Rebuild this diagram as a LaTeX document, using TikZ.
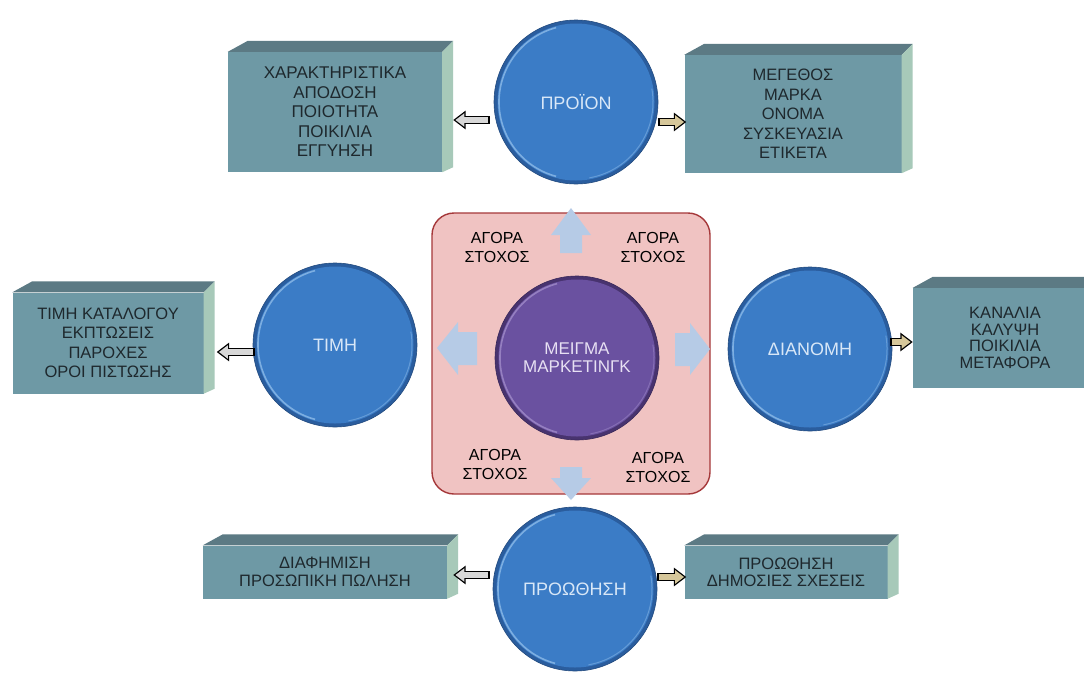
\documentclass[tikz,border=0pt]{standalone}
\usepackage{fontspec}
\setmainfont{Liberation Sans}
\usetikzlibrary{arrows.meta,calc,positioning}
\definecolor{discedge}{HTML}{2A5D9E}
\definecolor{discblue}{HTML}{3B7CC6}
\definecolor{discrim}{HTML}{8DBBE8}
\definecolor{disctext}{HTML}{D8E7F7}
\definecolor{mixedge}{HTML}{48336F}
\definecolor{mixfill}{HTML}{6A51A0}
\definecolor{mixrim}{HTML}{A08BC9}
\definecolor{mixtext}{HTML}{E7E0F3}
\definecolor{panelfill}{HTML}{F0C3C2}
\definecolor{paneledge}{HTML}{A5383A}
\definecolor{slabfront}{HTML}{6E99A5}
\definecolor{slabtop}{HTML}{5C7A84}
\definecolor{slabside}{HTML}{A7C9B9}
\definecolor{slabtext}{HTML}{1E282D}
\definecolor{blockblue}{HTML}{B6CBE6}
\definecolor{tanfill}{HTML}{D6C79A}
\definecolor{greyfill}{HTML}{D8D8D8}
\tikzset{
  disc/.style n args={3}{circle, minimum size=164pt, inner sep=0pt, fill=#1, draw=#1!80!black, line width=0.6pt,
    align=center, font=\fontsize{18}{19}\selectfont,
    path picture={\fill[#2] (path picture bounding box.center) circle (78.5pt);
      \draw[#3, line width=1.6pt, opacity=.8] (path picture bounding box.center) ++(105:77pt) arc[start angle=105, end angle=255, radius=77pt];
      \draw[#3, line width=1pt, opacity=.5] (path picture bounding box.center) ++(-80:77pt) arc[start angle=-80, end angle=10, radius=77pt];}},
  slab/.style={rectangle, fill=slabfront, inner sep=0pt, align=center, text=slabtext, font=\fontsize{16.5}{19.5}\selectfont},
  tag/.style={align=center, text=black, font=\fontsize{16}{19}\selectfont},
  block/.style={fill=blockblue},
  linkR/.style={draw=tanfill, line width=5.5pt, shorten <=1.5pt, shorten >=2.2pt, -{Triangle[length=9pt,width=13pt]},
    preaction={draw=black, line width=8.5pt, shorten <=0pt, shorten >=0pt, -{Triangle[length=12.5pt,width=18pt]}}},
  linkL/.style={linkR, draw=greyfill}
}
% top and right faces of a box
\newcommand{\slabsides}[1]{%
  \fill[slabtop] (#1.north west) -- ++(20,-11) -- ($(#1.north east)+(11,-11)$) -- (#1.north east) -- cycle;
  \fill[slabside] (#1.north east) -- ++(11,-11) -- ($(#1.south east)+(11,-5)$) -- (#1.south east) -- cycle;}
\begin{document}
\begin{tikzpicture}[x=1pt,y=-1pt]
  \useasboundingbox (0,0) rectangle (1084,675);
  \clip (0,0) rectangle (1084,675);
  \fill[white] (0,0) rectangle (1084,675);
  % boxes
  \node[slab, minimum width=214pt, minimum height=120pt, font=\fontsize{17}{19.5}\selectfont] (feat) at (335,112) {ΧΑΡΑΚΤΗΡΙΣΤΙΚΑ\\ΑΠΟΔΟΣΗ\\ΠΟΙΟΤΗΤΑ\\ΠΟΙΚΙΛΙΑ\\ΕΓΓΥΗΣΗ};
  \node[slab, minimum width=217pt, minimum height=118pt] (size) at (793,114) {ΜΕΓΕΘΟΣ\\ΜΑΡΚΑ\\ΟΝΟΜΑ\\ΣΥΣΚΕΥΑΣΙΑ\\ΕΤΙΚΕΤΑ};
  \node[slab, minimum width=191pt, minimum height=101pt] (terms) at (108,343) {ΤΙΜΗ ΚΑΤΑΛΟΓΟΥ\\ΕΚΠΤΩΣΕΙΣ\\ΠΑΡΟΧΕΣ\\ΟΡΟΙ ΠΙΣΤΩΣΗΣ};
  \node[slab, minimum width=184pt, minimum height=100pt, font=\fontsize{16.5}{16.5}\selectfont] (channels) at (1005,338) {ΚΑΝΑΛΙΑ\\ΚΑΛΥΨΗ\\ΠΟΙΚΙΛΙΑ\\ΜΕΤΑΦΟΡΑ};
  \node[slab, minimum width=244pt, minimum height=53pt, font=\fontsize{16.5}{18}\selectfont] (ads) at (325,572) {ΔΙΑΦΗΜΙΣΗ\\ΠΡΟΣΩΠΙΚΗ ΠΩΛΗΣΗ};
  \node[slab, minimum width=203pt, minimum height=53pt, font=\fontsize{16.5}{17}\selectfont] (pr) at (786,572) {ΠΡΟΩΘΗΣΗ\\ΔΗΜΟΣΙΕΣ ΣΧΕΣΕΙΣ};
  \slabsides{feat} \slabsides{size} \slabsides{terms}
  \slabsides{channels} \slabsides{ads} \slabsides{pr}
  % the four P discs
  \node[disc={discedge}{discblue}{discrim}, text=disctext] (prod) at (576,102) {ΠΡΟΪΟΝ};
  \node[disc={discedge}{discblue}{discrim}, text=disctext] (price) at (335,345) {ΤΙΜΗ};
  \node[disc={discedge}{discblue}{discrim}, text=disctext] (dist) at (810,349) {ΔΙΑΝΟΜΗ};
  \node[disc={discedge}{discblue}{discrim}, text=disctext] (promo) at (575,589) {ΠΡΟΩΘΗΣΗ};
  % centre panel
  \draw[fill=panelfill, draw=paneledge, line width=1.4pt, rounded corners=22pt] (432,213) rectangle (710,494);
  \node[disc={mixedge}{mixfill}{mixrim}, text=mixtext, font=\fontsize{17}{18}\selectfont] (mix) at (577,358) {ΜΕΙΓΜΑ\\ΜΑΡΚΕΤΙΝΓΚ};
  \node[tag] (tagNW) at (497,247) {ΑΓΟΡΑ\\ΣΤΟΧΟΣ};
  \node[tag] (tagNE) at (653,247) {ΑΓΟΡΑ\\ΣΤΟΧΟΣ};
  \node[tag] (tagSW) at (495,464) {ΑΓΟΡΑ\\ΣΤΟΧΟΣ};
  \node[tag] (tagSE) at (658,467) {ΑΓΟΡΑ\\ΣΤΟΧΟΣ};
  % block arrows
  \fill[block] (571,208) -- (591,235) -- (582,235) -- (582,253) -- (560,253) -- (560,235) -- (551,235) -- cycle;
  \fill[block] (437,348) -- (458,322) -- (458,332) -- (477,332) -- (477,365) -- (458,365) -- (458,375) -- cycle;
  \fill[block] (710,349) -- (690,323) -- (690,333) -- (675,333) -- (675,366) -- (690,366) -- (690,375) -- cycle;
  \fill[block] (560,467) -- (582,467) -- (582,478) -- (591,478) -- (571,500) -- (551,478) -- (560,478) -- cycle;
  % small arrows
  \draw[linkL] ($(prod.west |- feat.east)+(-4,8)$) -- ($(feat.east)+(11,8)$);
  \draw[linkR] ($(prod.east |- size.west)+(0,8)$) -- ($(size.west)+(2,8)$);
  \draw[linkL] ($(price.west |- terms.east)+(2,9)$) -- ($(terms.east)+(13,9)$);
  \draw[linkR] ($(dist.east |- channels.west)+(-2,4)$) -- ($(channels.west)+(0,4)$);
  \draw[linkL] ($(promo.west |- ads.east)+(-3,3)$) -- ($(ads.east)+(6,3)$);
  \draw[linkR] ($(promo.east |- pr.west)+(0,5)$) -- ($(pr.west)+(2,5)$);
\end{tikzpicture}
\end{document}
